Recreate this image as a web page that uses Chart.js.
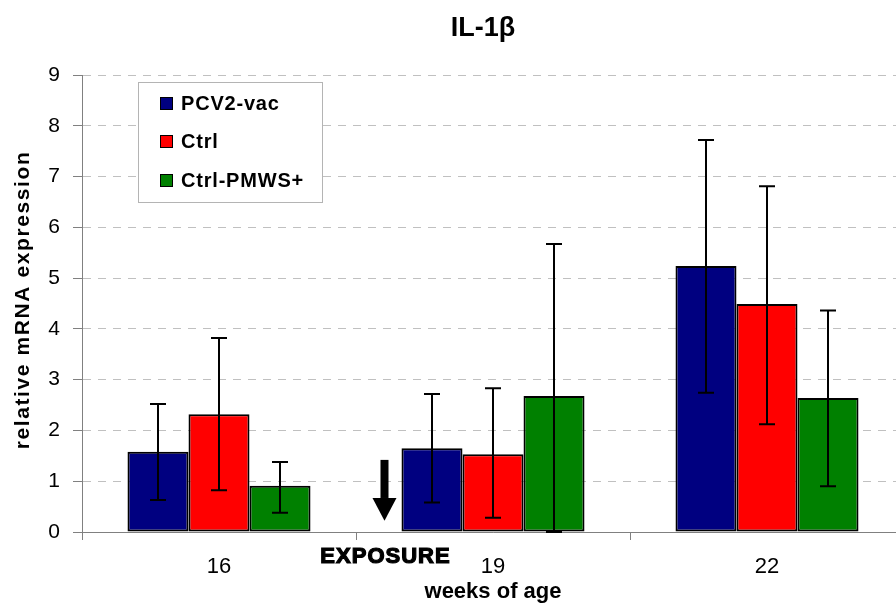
<!DOCTYPE html>
<html>
<head>
<meta charset="utf-8">
<script src="https://cdn.jsdelivr.net/npm/chart.js@4"></script>
<style>
  html, body { margin: 0; padding: 0; overflow: hidden; background: #fff; }
</style>
</head>
<body>
<canvas id="il1b-chart" width="906" height="609"></canvas>
<script>
// weeks of age on the x axis
var weeks = ['16', '19', '22'];
var seriesNames = ['PCV2-vac', 'Ctrl', 'Ctrl-PMWS+'];
var seriesColors = ['#000080', '#ff0000', '#008000'];

// bar heights (relative mRNA expression)
var pcv2Vac = [1.58, 1.65, 5.24];
var ctrl = [2.32, 1.53, 4.49];
var ctrlPmws = [0.91, 2.68, 2.64];

// error bar ends
var pcv2VacHigh = [2.52, 2.72, 7.72];
var pcv2VacLow = [0.63, 0.58, 2.74];
var ctrlHigh = [3.82, 2.83, 6.81];
var ctrlLow = [0.82, 0.28, 2.12];
var ctrlPmwsHigh = [1.38, 5.67, 4.36];
var ctrlPmwsLow = [0.38, 0, 0.90];

var yMin = 0, yMax = 9, yStep = 1;

var FONT = "'Liberation Sans', Arial, sans-serif";

function makeSet(i, values, hi, lo) {
    return {
        label: seriesNames[i],
        data: values,
        errHigh: hi,
        errLow: lo,
        backgroundColor: seriesColors[i],
        borderColor: '#000',
        borderWidth: 2,
        borderSkipped: false
    };
}

// Error bars drawn on top of the bars
var errorBars = {
    id: 'errorBars',
    afterDatasetsDraw: function (chart) {
        var ctx = chart.ctx, y = chart.scales.y;
        ctx.save();
        ctx.strokeStyle = '#000';
        ctx.lineWidth = 2;
        chart.data.datasets.forEach(function (ds, i) {
            chart.getDatasetMeta(i).data.forEach(function (bar, j) {
                var x = Math.round(bar.x);
                var top = y.getPixelForValue(ds.errHigh[j]);
                var bot = y.getPixelForValue(ds.errLow[j]);
                ctx.beginPath();
                ctx.moveTo(x, top); ctx.lineTo(x, bot);
                ctx.moveTo(x - 8, top); ctx.lineTo(x + 8, top);
                ctx.moveTo(x - 8, bot); ctx.lineTo(x + 8, bot);
                ctx.stroke();
            });
        });
        ctx.restore();
    }
};

// Title, axis titles, legend box and exposure marker
var extras = {
    id: 'extras',
    afterDraw: function (chart) {
        var ctx = chart.ctx, area = chart.chartArea;
        var xs = chart.scales.x, ys = chart.scales.y;
        ctx.save();
        ctx.fillStyle = '#000';

        // title
        ctx.font = 'bold 27px ' + FONT;
        ctx.textAlign = 'center';
        ctx.textBaseline = 'alphabetic';
        ctx.fillText('IL-1\u03b2', 483, 36);

        // x title
        ctx.font = 'bold 22px ' + FONT;
        ctx.fillText('weeks of age', (area.left + area.right) / 2, 598);

        // y title
        ctx.save();
        ctx.translate(29, 300);
        ctx.rotate(-Math.PI / 2);
        ctx.font = 'bold 21px ' + FONT;
        ctx.letterSpacing = '1.6px';
        ctx.fillText('relative mRNA expression', 0, 0);
        ctx.restore();

        // legend
        ctx.fillStyle = '#fff';
        ctx.fillRect(138, 82, 184, 120);
        ctx.strokeStyle = '#b4b4b4';
        ctx.lineWidth = 1;
        ctx.strokeRect(138.5, 82.5, 184, 120);
        ctx.font = 'bold 20px ' + FONT;
        ctx.letterSpacing = '0.8px';
        ctx.textAlign = 'left';
        ctx.textBaseline = 'middle';
        var rows = [103, 141, 180];
        chart.data.datasets.forEach(function (ds, i) {
            ctx.fillStyle = ds.backgroundColor;
            ctx.fillRect(160, rows[i] - 6, 12, 12);
            ctx.strokeStyle = '#000';
            ctx.strokeRect(160.5, rows[i] - 5.5, 12, 12);
            ctx.fillStyle = '#000';
            ctx.fillText(ds.label, 181, rows[i] + 1);
        });

        // exposure arrow between 16 and 19 weeks
        var p0 = xs.getPixelForValue(0), p1 = xs.getPixelForValue(1);
        var ax = p0 + 0.604 * (p1 - p0);
        var yTop = ys.getPixelForValue(1.42);
        var yNeck = ys.getPixelForValue(0.67);
        var yTip = ys.getPixelForValue(0.22);
        ctx.fillStyle = '#000';
        ctx.fillRect(ax - 4, yTop, 8, yNeck - yTop);
        ctx.beginPath();
        ctx.moveTo(ax - 12, yNeck);
        ctx.lineTo(ax + 12, yNeck);
        ctx.lineTo(ax, yTip);
        ctx.closePath();
        ctx.fill();

        ctx.font = 'bold 22px ' + FONT;
        ctx.letterSpacing = '1px';
        ctx.textAlign = 'center';
        ctx.textBaseline = 'alphabetic';
        ctx.strokeStyle = '#000';
        ctx.lineWidth = 1.2;
        ctx.fillText('EXPOSURE', ax + 1, 563);
        ctx.strokeText('EXPOSURE', ax + 1, 563);

        ctx.restore();
    }
};

var chartData = {
    labels: weeks,
    datasets: [
        makeSet(0, pcv2Vac, pcv2VacHigh, pcv2VacLow),
        makeSet(1, ctrl, ctrlHigh, ctrlLow),
        makeSet(2, ctrlPmws, ctrlPmwsHigh, ctrlPmwsLow)
    ]
};

var chartOptions = {
    responsive: false,
    animation: false,
    devicePixelRatio: 1,
    layout: { padding: { top: 75, right: 2, left: 0, bottom: 0 } },
    datasets: { bar: { categoryPercentage: 0.668, barPercentage: 1.0 } },
    plugins: {
        legend: { display: false },
        title: { display: false },
        tooltip: { enabled: false }
    },
    scales: {
        x: {
            grid: { offset: true, drawOnChartArea: false, tickLength: 8, color: '#808080' },
            border: { color: '#808080' },
            ticks: { color: '#000', padding: 14, font: { family: FONT, size: 22 } },
            afterFit: function (s) { s.height = 77; }
        },
        y: {
            min: yMin,
            max: yMax,
            ticks: { stepSize: yStep, color: '#000', padding: 13, font: { family: FONT, size: 21 } },
            grid: { color: '#c0c0c0', tickColor: '#808080', tickLength: 9, tickBorderDash: [] },
            border: { color: '#808080', dash: [8, 7] },
            afterFit: function (s) { s.width = 82; }
        }
    }
};

var ctx = document.getElementById('il1b-chart');
var il1bChart = new Chart(ctx, {
    type: 'bar',
    data: chartData,
    options: chartOptions,
    plugins: [errorBars, extras]
});
</script>
</body>
</html>
